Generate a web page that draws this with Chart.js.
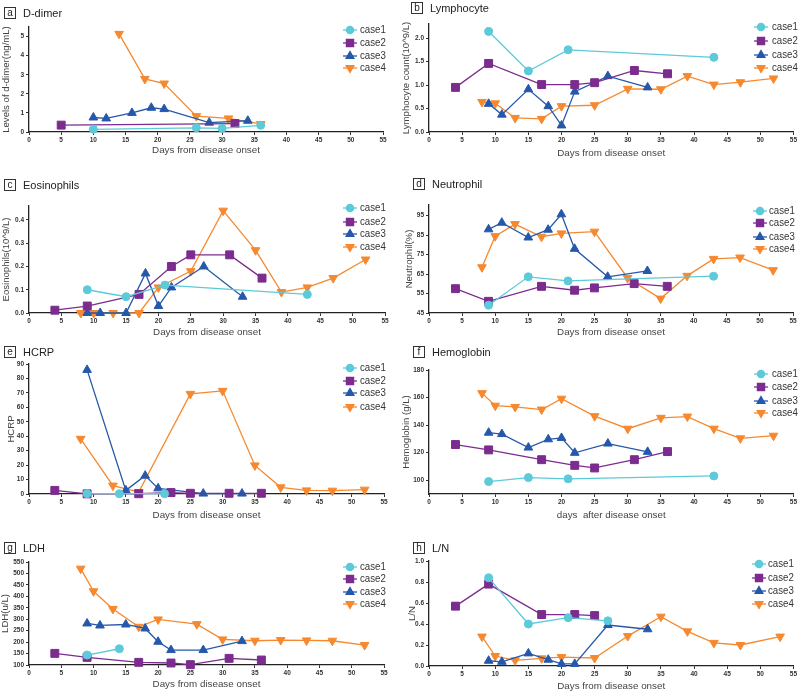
<!DOCTYPE html>
<html><head><meta charset="utf-8">
<script src="https://cdn.jsdelivr.net/npm/chart.js@4"></script>
<style>
body{margin:0;background:#fff;width:800px;height:692px;position:relative;overflow:hidden;font-family:"Liberation Sans",Arial,sans-serif;}
canvas{position:absolute;}
.ttl{position:absolute;font-size:11px;color:#222;white-space:nowrap;line-height:12px;}
.ttl .box{display:inline-block;border:1px solid #333;width:10px;height:10px;line-height:10px;text-align:center;font-size:10px;margin-right:7px;vertical-align:top;}
</style></head><body>
<script>
// ---------- data ----------
const caseNames = ['case1','case2','case3','case4'];
const xTicks = [0,5,10,15,20,25,30,35,40,45,50,55];

const dimer1 = [[10,0.14],[26,0.22],[30,0.19],[36,0.35]];
const dimer2 = [[5,0.36],[32,0.44]];
const dimer3 = [[10,0.76],[12,0.71],[16,1.0],[19,1.27],[21,1.2],[28,0.49],[34,0.59]];
const dimer4 = [[14,5.14],[18,2.78],[21,2.54],[26,0.83],[31,0.71],[36,0.42]];
const dimerTicks = [0,1,2,3,4,5];

const lym1 = [[9,2.14],[15,1.3],[21,1.75],[43,1.59]];
const lym2 = [[4,0.95],[9,1.46],[17,1.01],[22,1.01],[25,1.05],[31,1.31],[36,1.24]];
const lym3 = [[9,0.6],[11,0.37],[15,0.91],[18,0.55],[20,0.14],[22,0.86],[27,1.19],[33,0.95]];
const lym4 = [[8,0.64],[10,0.61],[13,0.3],[17,0.28],[20,0.55],[25,0.57],[30,0.92],[35,0.91],[39,1.19],[43,1.01],[47,1.06],[52,1.14]];
const lymTicks = [0,0.5,1.0,1.5,2.0];

const eos1 = [[9,0.1],[15,0.07],[21,0.12],[43,0.08]];
const eos2 = [[4,0.012],[9,0.03],[17,0.08],[22,0.2],[25,0.25],[31,0.25],[36,0.15]];
const eos3 = [[9,0],[11,0],[15,0],[18,0.17],[20,0.03],[22,0.11],[27,0.2],[33,0.07]];
const eos4 = [[8,0],[10,0],[13,0],[17,0],[20,0.11],[25,0.18],[30,0.44],[35,0.27],[39,0.09],[43,0.11],[47,0.15],[52,0.23]];
const eosTicks = [0,0.1,0.2,0.3,0.4];

const neu1 = [[9,49],[15,63.6],[21,61.5],[43,63.9]];
const neu2 = [[4,57.5],[9,51],[17,58.7],[22,56.7],[25,57.9],[31,60.1],[36,58.7]];
const neu3 = [[9,88],[11,91.4],[15,83.8],[18,87.8],[20,95.7],[22,78],[27,63.6],[33,66.6]];
const neu4 = [[8,68.5],[10,84.5],[13,90.7],[17,84.2],[20,85.9],[25,86.8],[30,63],[35,52.4],[39,64.1],[43,72.8],[47,73.5],[52,67]];
const neuTicks = [45,55,65,75,85,95];

const crp1 = [[9,0.2],[14,0.2],[21,0.2]];
const crp2 = [[4,2.5],[9,0.1],[17,0.2],[22,1],[25,0.5],[31,0.5],[36,0.5]];
const crp3 = [[9,85.9],[15,2.5],[18,12.7],[20,3.9],[27,0.3],[33,0.3]];
const crp4 = [[8,38.2],[13,5.8],[17,1.4],[25,69.3],[30,71.4],[35,19.8],[39,4.6],[43,2.5],[47,2.3],[52,3]];
const crpTicks = [0,10,20,30,40,50,60,70,80,90];

const hb1 = [[9,99],[15,101.9],[21,101],[43,103.1]];
const hb2 = [[4,125.9],[9,122],[17,114.9],[22,110.8],[25,108.9],[31,114.9],[36,120.8]];
const hb3 = [[9,134.5],[11,133.5],[15,123.7],[18,129.7],[20,130.7],[22,119.9],[27,126.6],[33,120.6]];
const hb4 = [[8,163.2],[10,154.1],[13,153.2],[17,151.3],[20,159.2],[25,146.5],[30,137.4],[35,145.3],[39,146.2],[43,137.4],[47,130.4],[52,132.3]];
const hbTicks = [100,120,140,160,180];

const ldh1 = [[9,143.5],[14,171]];
const ldh2 = [[4,150.8],[9,133.4],[17,111.6],[22,108.7],[25,101.5],[31,129],[36,121.8]];
const ldh3 = [[9,281.4],[11,272.7],[15,277],[18,259.6],[20,201.6],[22,165.3],[27,165.3],[33,204.5]];
const ldh4 = [[8,521],[10,422],[13,345],[17,267],[20,299],[26,278.5],[30,211.8],[35,206],[39,208.9],[43,207.4],[47,206],[52,187]];
const ldhTicks = [100,150,200,250,300,350,400,450,500,550];

const ln1 = [[9,0.84],[15,0.4],[21,0.46],[27,0.43]];
const ln2 = [[4,0.57],[9,0.78],[17,0.49],[22,0.49],[25,0.48]];
const ln3 = [[9,0.05],[11,0.04],[15,0.12],[18,0.06],[20,0.02],[22,0.02],[27,0.39],[33,0.35]];
const ln4 = [[8,0.28],[10,0.095],[13,0.054],[17,0.073],[20,0.085],[25,0.076],[30,0.285],[35,0.47],[39,0.33],[43,0.22],[47,0.2],[53,0.28]];
const lnTicks = [0,0.2,0.4,0.6,0.8,1.0];

// ---------- style / layout ----------
const colors = ['#5ccad8','#7b2c8e','#2658aa','#f6892f'];
const pStyles = ['circle','rect','triangle','triangle'];
const pRot = [0,0,0,180];
const pRad = [4,5.6,5,5];
const FONT = '"Liberation Sans",Arial,sans-serif';

const panels = [
 {L:'a',name:'D-dimer',s:[dimer1,dimer2,dimer3,dimer4],yt:'Levels of d-dimer(ng/mL)',xt:'Days from disease onset',col:0,area:[29,27,383,132],xtY:150,ymin:0,ymax:5.5,ticks:dimerTicks,dec:0,box:[4,7],leg:[343,360,[30,43,56,68]],ytPad:1},
 {L:'b',name:'Lymphocyte',s:[lym1,lym2,lym3,lym4],yt:'Lymphocyte count(10^9/L)',xt:'Days from disease onset',col:1,area:[429,24,794,132],xtY:153,ymin:0,ymax:2.3,ticks:lymTicks,dec:1,box:[411,2],leg:[754,772,[27,41,55,68]],ytPad:1},
 {L:'c',name:'Eosinophils',s:[eos1,eos2,eos3,eos4],yt:'Eosinophils(10^9/L)',xt:'Days from disease onset',col:0,area:[29,206,385,313],xtY:332,ymin:0,ymax:0.46,ticks:eosTicks,dec:1,box:[4,179],leg:[343,360,[208,222,234,247]],ytPad:1},
 {L:'d',name:'Neutrophil',s:[neu1,neu2,neu3,neu4],yt:'Neutrophil(%)',xt:'Days from disease onset',col:1,area:[429,205,793,313],xtY:332,ymin:45,ymax:100.5,ticks:neuTicks,dec:0,box:[413,178],leg:[753,769,[211,223,237,249]],ytPad:4},
 {L:'e',name:'HCRP',s:[crp1,crp2,crp3,crp4],yt:'HCRP',xt:'Days from disease onset',col:0,area:[29,364,384,494],xtY:515,ymin:0,ymax:90,ticks:crpTicks,dec:0,box:[4,346],leg:[343,360,[368,381,393,407]],ytPad:6},
 {L:'f',name:'Hemoglobin',s:[hb1,hb2,hb3,hb4],yt:'Hemoglobin (g/L)',xt:'days  after disease onset',col:1,area:[429,370,797,494],xtY:515,ymin:90,ymax:180,ticks:hbTicks,dec:0,box:[413,346],leg:[754,772,[374,387,401,413]],ytPad:1},
 {L:'g',name:'LDH',s:[ldh1,ldh2,ldh3,ldh4],yt:'LDH(u/L)',xt:'Days from disease onset',col:0,area:[29,562,384,665],xtY:684,ymin:100,ymax:550,ticks:ldhTicks,dec:0,box:[4,542],leg:[343,360,[567,579,592,604]],ytPad:0},
 {L:'h',name:'L/N',s:[ln1,ln2,ln3,ln4],yt:'L/N',xt:'Days from disease onset',col:1,area:[429,561,794,666],xtY:686,ymin:0,ymax:1.0,ticks:lnTicks,dec:1,box:[413,542],leg:[752,768,[564,578,591,604]],ytPad:7}
];

function legendPlugin(p, cl, ct){
  return {id:'lg'+p.L, afterDraw(chart){
    const ctx = chart.ctx; ctx.save();
    const [lx, tx, ys] = p.leg;
    ys.forEach((y,i)=>{
      const yy = y - ct, x0 = lx - cl;
      ctx.strokeStyle = colors[i]; ctx.fillStyle = colors[i]; ctx.lineWidth = 1.3;
      ctx.beginPath(); ctx.moveTo(x0, yy); ctx.lineTo(x0+14, yy); ctx.stroke();
      Chart.helpers.drawPoint(ctx, {pointStyle:pStyles[i], radius:pRad[i]*0.9, rotation:pRot[i], borderWidth:1}, x0+7, yy);
      ctx.save();
      ctx.translate(tx - cl, yy); ctx.scale(0.84, 1);
      ctx.fillStyle = '#333'; ctx.font = '11.5px ' + FONT; ctx.textBaseline = 'middle'; ctx.textAlign = 'left';
      ctx.fillText(caseNames[i], 0, 0);
      ctx.restore();
    });
    ctx.restore();
  }};
}

panels.forEach(p=>{
  const [L,T,R,B] = p.area;
  const cl = p.col*400, ct = Math.max(0, T-24);
  const cb = p.xtY + 8;
  const cv = document.createElement('canvas');
  cv.width = 400; cv.height = cb - ct;
  cv.style.left = cl+'px'; cv.style.top = ct+'px';
  document.body.appendChild(cv);

  const t = document.createElement('div'); t.className='ttl';
  t.style.left = p.box[0]+'px'; t.style.top = p.box[1]+'px';
  t.innerHTML = '<span class="box">'+p.L+'</span>'+p.name;
  document.body.appendChild(t);

  const ds = p.s.map((ser,i)=>({
    label: caseNames[i],
    data: ser.map(q=>({x:q[0], y:q[1]})),
    borderColor: colors[i], backgroundColor: colors[i],
    pointStyle: pStyles[i], pointRotation: pRot[i], pointRadius: pRad[i],
    pointBorderWidth: 1, borderWidth: 1.3, tension: 0, clip: false
  }));
  const yT = p.ticks, dec = p.dec;
  new Chart(cv, {
    type:'line',
    data:{datasets:ds},
    options:{
      responsive:false, animation:false, devicePixelRatio:1,
      layout:{padding:{left:0, top:T-ct, right:cl+400-R, bottom:0}},
      plugins:{legend:{display:false}, tooltip:{enabled:false}},
      scales:{
        x:{type:'linear', min:0, max:55,
          afterBuildTicks:s=>{s.ticks = xTicks.map(v=>({value:v}));},
          afterFit:s=>{s.height = cb - B;},
          grid:{display:true, drawOnChartArea:false, drawTicks:true, tickLength:3, color:'#333'},
          border:{display:true, color:'#222', width:1.3},
          ticks:{font:{size:6.5, weight:'bold', family:FONT}, color:'#333', padding:1, maxRotation:0, autoSkip:false},
          title:{display:true, text:p.xt, color:'#444', font:{size:9.8, family:FONT}, padding:{top:0, bottom:2}}
        },
        y:{type:'linear', min:p.ymin, max:p.ymax,
          afterBuildTicks:s=>{s.ticks = yT.map(v=>({value:v}));},
          afterFit:s=>{s.width = L - cl;},
          grid:{display:true, drawOnChartArea:false, drawTicks:true, tickLength:3, color:'#333'},
          border:{display:true, color:'#222', width:1.3},
          ticks:{font:{size:6.5, weight:'bold', family:FONT}, color:'#333', padding:2, autoSkip:false,
            callback:v=> dec ? Number(v).toFixed(dec) : String(v)},
          title:{display:true, text:p.yt, color:'#444', font:{size:9.6, family:FONT}, padding:{top:p.ytPad, bottom:0}}
        }
      }
    },
    plugins:[legendPlugin(p, cl, ct)]
  });
});
</script>
</body></html>
